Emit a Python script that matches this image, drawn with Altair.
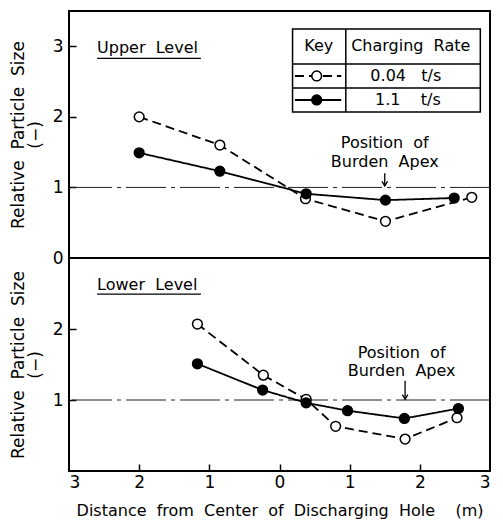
import altair as alt
import pandas as pd

FONT = "DejaVu Sans"
SERIES = ["0.04 t/s", "1.1 t/s"]

# ---- data ----
upper_open_x = [-2.0, -0.85, 0.37, 1.51, 2.74]
upper_open_y = [2.0, 1.60, 0.84, 0.52, 0.86]
upper_fill_x = [-2.0, -0.85, 0.38, 1.51, 2.49]
upper_fill_y = [1.49, 1.23, 0.91, 0.82, 0.85]

lower_open_x = [-1.17, -0.23, 0.38, 0.80, 1.79, 2.53]
lower_open_y = [2.07, 1.35, 1.01, 0.63, 0.45, 0.75]
lower_fill_x = [-1.17, -0.24, 0.38, 0.97, 1.78, 2.55]
lower_fill_y = [1.51, 1.14, 0.96, 0.85, 0.74, 0.88]

x_label_values = [-3, -2, -1, 0, 1, 2, 3]
x_tick_values = [-2, -1, 0, 1, 2]
upper_y_labels = [0, 1, 2, 3]
upper_y_ticks = [1, 2, 3]
lower_y_labels = [1, 2]
lower_y_ticks = [1, 2]

NB = "\u00a0"
X_TITLE = f"Distance{NB} from{NB} Center{NB} of{NB} Discharging{NB} Hole{NB}{NB}{NB} (m)"
Y_TITLE = [f"Relative{NB} Particle{NB} Size", "(\u2212)"]

# annotation layout (in data units of each panel)
upper_label = {"t": f"Upper{NB} Level", "x": -2.6, "y": 2.90, "ul_y": 2.83, "ul_x2": -1.12}
lower_label = {"t": f"Lower{NB} Level", "x": -2.6, "y": 2.55, "ul_y": 2.49, "ul_x2": -1.12}
upper_apex = {"x": 1.50, "tx": 1.50, "y1": 1.56, "y2": 1.29, "a1": 1.20, "a0": 1.02}
lower_apex = {"x": 1.79, "tx": 1.74, "y1": 1.59, "y2": 1.34, "a1": 1.27, "a0": 1.01}

# legend-table geometry (upper panel data units)
TBL = {"x0": 0.186, "xc": 0.945, "x1": 2.862,
       "y0": 2.069, "r2": 2.409, "r1": 2.749, "y1": 3.245,
       "hy": 2.997, "ry": [2.579, 2.239],
       "keyx0": 0.22, "keyx1": 0.88, "keyc": 0.53,
       "keytx": 0.56, "ratetx": 1.87, "valtx": [1.80, 1.83]}
TABLE_TEXT = ["Key", f"Charging{NB} Rate", f"0.04{NB}{NB} t/s", f"1.1{NB}{NB}{NB} t/s"]


def series_df(ox, oy, fx, fy):
    return pd.DataFrame({
        "x": ox + fx,
        "y": oy + fy,
        "series": [SERIES[0]] * len(ox) + [SERIES[1]] * len(fx),
    })


xscale = alt.Scale(domain=[-3, 3], nice=False, zero=False)
dash_scale = alt.Scale(domain=SERIES, range=[[9, 5], [1, 0]])
fill_scale = alt.Scale(domain=SERIES, range=["white", "black"])


def X(field="x", axis=None):
    if axis is None:
        return alt.X(f"{field}:Q", scale=xscale, axis=None)
    return alt.X(f"{field}:Q", scale=xscale, axis=axis)


def panel(df, height, ydom, ylab, ytick, bottom, lab, apex, table=False):
    yscale = alt.Scale(domain=ydom, nice=False, zero=False)

    def Y(field="y", axis=None):
        if axis is None:
            return alt.Y(f"{field}:Q", scale=yscale, axis=None)
        return alt.Y(f"{field}:Q", scale=yscale, axis=axis)

    yaxis_lab = alt.Axis(orient="left", values=ylab, ticks=False, domain=False, grid=False,
                         labelFontSize=17, labelPadding=6, title=Y_TITLE, titleFontSize=17,
                         titleFontWeight="normal", titlePadding=8, titleLineHeight=17)
    yaxis_tick = alt.Axis(orient="left", values=ytick, offset=-7, tickSize=7, tickWidth=1.5,
                          tickColor="black", labels=False, domain=False, grid=False, title=None)
    if bottom:
        xaxis_lab = alt.Axis(orient="bottom", values=x_label_values, labelExpr="abs(datum.value)",
                             ticks=False, domain=False, grid=False, labelFontSize=17, labelPadding=3,
                             title=X_TITLE, titleFontSize=16, titleFontWeight="normal", titlePadding=12)
        xaxis_tick = alt.Axis(orient="bottom", values=x_tick_values, offset=-7, tickSize=7, tickWidth=1.5,
                              tickColor="black", labels=False, domain=False, grid=False, title=None)
    else:
        xaxis_lab = None
        xaxis_tick = None

    ticks = alt.Chart(df).mark_point(opacity=0).encode(x=X(axis=xaxis_tick), y=Y(axis=yaxis_tick))

    ref = alt.Chart(pd.DataFrame({"y": [1]})).mark_rule(
        color="#222", strokeWidth=1, strokeDash=[40, 5, 4, 5]).encode(y=Y())

    lines = alt.Chart(df).mark_line(strokeWidth=1.8, color="black").encode(
        x=X(axis=xaxis_lab), y=Y(axis=yaxis_lab),
        strokeDash=alt.StrokeDash("series:N", scale=dash_scale, legend=None),
        detail="series:N")

    pts = alt.Chart(df).mark_point(shape="circle", filled=True, size=95, stroke="black",
                                   strokeWidth=1.5, opacity=1).encode(
        x=X(), y=Y(), fill=alt.Fill("series:N", scale=fill_scale, legend=None))

    title_txt = alt.Chart(pd.DataFrame({"x": [lab["x"]], "y": [lab["y"]], "t": [lab["t"]]})).mark_text(
        align="left", baseline="alphabetic", fontSize=16, font=FONT, color="black").encode(
        x=X(), y=Y(), text="t:N")
    underline = alt.Chart(pd.DataFrame({"x": [lab["x"]], "x2": [lab["ul_x2"]], "y": [lab["ul_y"]]})).mark_rule(
        color="black", strokeWidth=1.3).encode(x=X(), x2="x2:Q", y=Y())

    apex_df = pd.DataFrame({"x": [apex["tx"], apex["tx"]], "y": [apex["y1"], apex["y2"]],
                            "t": [f"Position{NB} of", f"Burden{NB} Apex"]})
    apex_txt = alt.Chart(apex_df).mark_text(align="center", baseline="alphabetic", fontSize=16,
                                            font=FONT, color="black").encode(x=X(), y=Y(), text="t:N")
    arrow = alt.Chart(pd.DataFrame({"x": [apex["x"]], "y": [apex["a1"]], "y2": [apex["a0"]]})).mark_rule(
        color="black", strokeWidth=1.3).encode(x=X(), y=Y(), y2="y2:Q")
    head = alt.Chart(pd.DataFrame({"x": [apex["x"]], "y": [apex["a0"]]})).mark_point(
        shape="M-1,-1.7L0,0L1,-1.7", filled=False, size=30, stroke="black", strokeWidth=1.3, opacity=1).encode(
        x=X(), y=Y())

    layers = [ticks, ref, lines, pts, title_txt, underline, apex_txt, arrow, head]

    if table:
        box = alt.Chart(pd.DataFrame({"x": [TBL["x0"]], "x2": [TBL["x1"]], "y": [TBL["y0"]], "y2": [TBL["y1"]]})).mark_rect(
            fill="white", stroke="black", strokeWidth=1.5).encode(x=X(), x2="x2:Q", y=Y(), y2="y2:Q")
        hrules = alt.Chart(pd.DataFrame({"x": [TBL["x0"]] * 2, "x2": [TBL["x1"]] * 2, "y": [TBL["r1"], TBL["r2"]]})).mark_rule(
            color="black", strokeWidth=1.5).encode(x=X(), x2="x2:Q", y=Y())
        vrule = alt.Chart(pd.DataFrame({"x": [TBL["xc"]], "y": [TBL["y0"]], "y2": [TBL["y1"]]})).mark_rule(
            color="black", strokeWidth=1.5).encode(x=X(), y=Y(), y2="y2:Q")
        ttxt = alt.Chart(pd.DataFrame({
            "x": [TBL["keytx"], TBL["ratetx"], TBL["valtx"][0], TBL["valtx"][1]],
            "y": [TBL["hy"], TBL["hy"], TBL["ry"][0], TBL["ry"][1]],
            "t": TABLE_TEXT})).mark_text(align="center", baseline="middle", fontSize=16, font=FONT,
                                         color="black").encode(x=X(), y=Y(), text="t:N")
        kdf = pd.DataFrame({"x": [TBL["keyx0"]] * 2, "x2": [TBL["keyx1"]] * 2, "y": TBL["ry"], "series": SERIES})
        klines = alt.Chart(kdf).mark_rule(color="black", strokeWidth=1.8).encode(
            x=X(), x2="x2:Q", y=Y(), strokeDash=alt.StrokeDash("series:N", scale=dash_scale, legend=None))
        kpdf = pd.DataFrame({"x": [TBL["keyc"]] * 2, "y": TBL["ry"], "series": SERIES})
        kpts = alt.Chart(kpdf).mark_point(shape="circle", filled=True, size=95, stroke="black",
                                          strokeWidth=1.5, opacity=1).encode(
            x=X(), y=Y(), fill=alt.Fill("series:N", scale=fill_scale, legend=None))
        layers += [box, hrules, vrule, ttxt, klines, kpts]

    return alt.layer(*layers).resolve_axis(x="independent", y="independent").properties(
        width=421, height=height)


upper = panel(series_df(upper_open_x, upper_open_y, upper_fill_x, upper_fill_y), 247, [0, 3.5],
              upper_y_labels, upper_y_ticks, False, upper_label, upper_apex, table=True)
lower = panel(series_df(lower_open_x, lower_open_y, lower_fill_x, lower_fill_y), 213, [0, 3],
              lower_y_labels, lower_y_ticks, True, lower_label, lower_apex)

chart = alt.vconcat(upper, lower, spacing=0, bounds="flush").resolve_scale(
    y="independent").properties(
    padding={"left": 0, "top": 2, "right": 0, "bottom": 0},
    background="white",
).configure_view(stroke="black", strokeWidth=2).configure_axis(
    labelFont=FONT, titleFont=FONT, labelColor="black", titleColor="black")

chart.save("out.html", embed_options={"renderer": "svg", "actions": False})
